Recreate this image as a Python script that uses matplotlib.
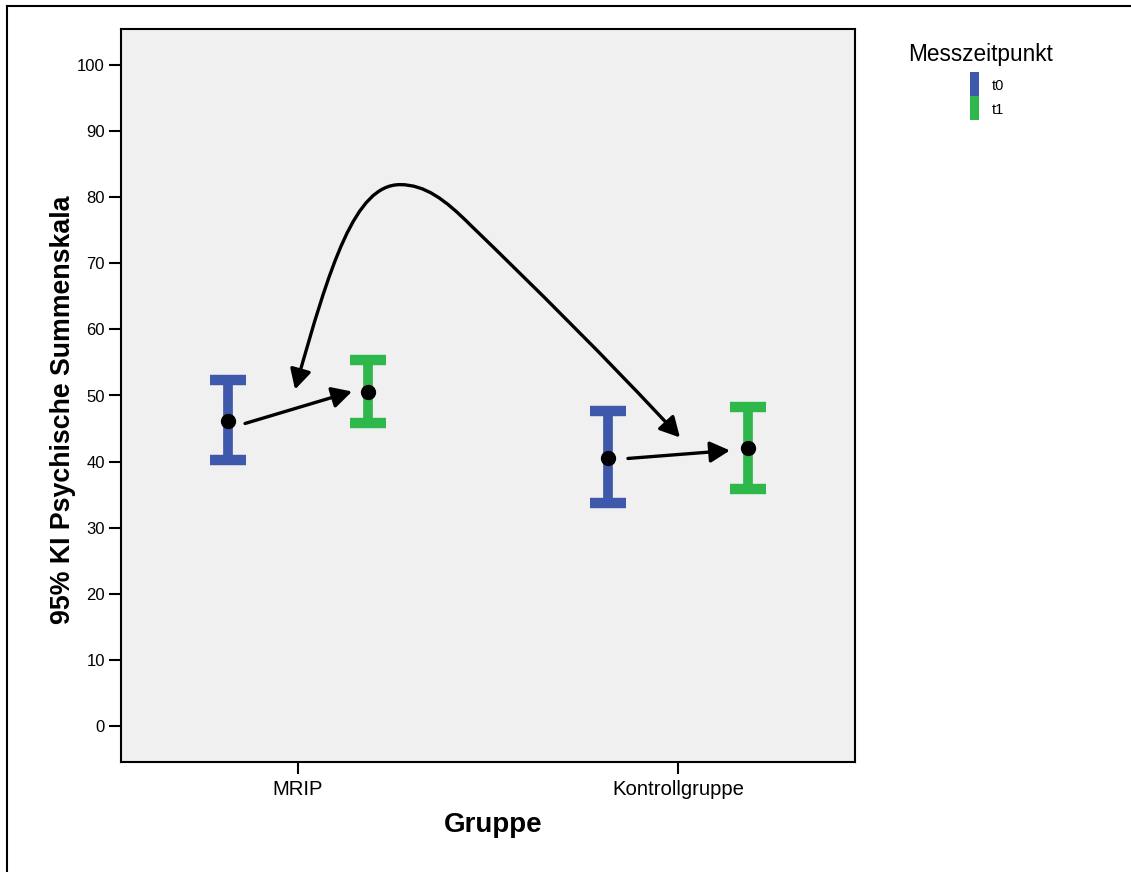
import matplotlib
matplotlib.use("Agg")
import matplotlib.pyplot as plt
from matplotlib.patches import FancyArrowPatch, Rectangle
from matplotlib.path import Path
from matplotlib.lines import Line2D

plt.rcParams['font.family'] = ['Liberation Sans', 'DejaVu Sans']

groups = ["MRIP", "Kontrollgruppe"]
times = ["t0", "t1"]
means_t0 = [46.2, 40.6]
low_t0 = [40.3, 33.7]
high_t0 = [52.3, 47.7]
means_t1 = [50.5, 42.0]
low_t1 = [45.8, 35.8]
high_t1 = [55.3, 48.3]
yticks = [0, 10, 20, 30, 40, 50, 60, 70, 80, 90, 100]
colors = ["#3E58AC", "#2EB84C"]

W, H = 1131, 872
fig = plt.figure(figsize=(W / 100, H / 100), dpi=100)
ax = fig.add_axes([121 / W, 1 - 762 / H, (855 - 121) / W, (762 - 29) / H])
ax.set_facecolor("#F0F0F0")

offset = 0.184
series = [(means_t0, low_t0, high_t0, -offset), (means_t1, low_t1, high_t1, offset)]
for (m, lo, hi, off), c in zip(series, colors):
    xs = [i + off for i in range(len(groups))]
    yerr = [[mm - l for mm, l in zip(m, lo)], [h - mm for mm, h in zip(m, hi)]]
    ax.errorbar(xs, m, yerr=yerr, fmt='none', ecolor=c, elinewidth=7,
                capsize=13, capthick=7.5, zorder=2)
    ax.plot(xs, m, 'o', color='black', markersize=10, zorder=4)

ax.set_xlim(-0.466, 1.466)
ax.set_ylim(-5.4, 105.4)
ax.set_yticks(yticks)
ax.set_yticklabels([str(v) for v in yticks], fontsize=12)
ax.set_xticks(range(len(groups)))
ax.set_xticklabels(groups, fontsize=14.6)
ax.tick_params(axis='y', length=8.6, width=1.5, pad=3.0)
ax.tick_params(axis='x', length=8.6, width=1.5, pad=4.0)
for s in ax.spines.values():
    s.set_linewidth(1.5)


def px(x, y):
    # convert pixel position of the reference layout into data coordinates
    return ((x - 298) / 380.0, (727 - y) / 6.62)


fig.text(63 / W, 1 - 410 / H, "95% KI Psychische Summenskala", fontsize=19.3,
         fontweight='bold', rotation=90, ha='center', va='center')
fig.text(493 / W, 1 - 832 / H, "Gruppe", fontsize=20, fontweight='bold',
         ha='center', va='baseline')

# straight arrows
astyle = '-|>,head_length=0.6,head_width=0.32'
for p0, p1 in [((245, 424), (352, 392)), ((628, 459), (730, 451))]:
    ax.add_patch(FancyArrowPatch(px(*p0), px(*p1), arrowstyle=astyle, mutation_scale=20,
                                 color='black', linewidth=2.4, zorder=5, shrinkA=0, shrinkB=0))

# curved double arrow
pts = [(295, 390), (330, 265), (355, 185), (400, 185),
       (425, 185), (445, 200), (470, 225),
       (530, 283), (610, 362), (680, 438)]
codes = [Path.MOVETO, Path.CURVE4, Path.CURVE4, Path.CURVE4,
         Path.CURVE4, Path.CURVE4, Path.CURVE4,
         Path.CURVE4, Path.CURVE4, Path.CURVE4]
ax.add_patch(FancyArrowPatch(path=Path([px(*p) for p in pts], codes),
                             arrowstyle='<|-|>,head_length=0.6,head_width=0.32',
                             mutation_scale=20, color='black', linewidth=2.4, zorder=5))

# legend
fig.text(908 / W, 1 - 60.5 / H, "Messzeitpunkt", fontsize=16.3, va='baseline', ha='left')
for i, (t, c) in enumerate(zip(times, colors)):
    fig.patches.append(Rectangle((970 / W, 1 - (96 + 24 * i) / H), 9 / W, 24 / H,
                                 transform=fig.transFigure, facecolor=c, edgecolor='none'))
    fig.text(992 / W, 1 - (86 + 24 * i) / H, t, fontsize=10.5, va='center', ha='left')

# frame lines
fig.add_artist(Line2D([7 / W, 7 / W], [0, 1 - 6 / H], transform=fig.transFigure, color='black', linewidth=1.5))
fig.add_artist(Line2D([7 / W, 1], [1 - 6 / H, 1 - 6 / H], transform=fig.transFigure, color='black', linewidth=1.5))

fig.savefig("out.png", dpi=100)
